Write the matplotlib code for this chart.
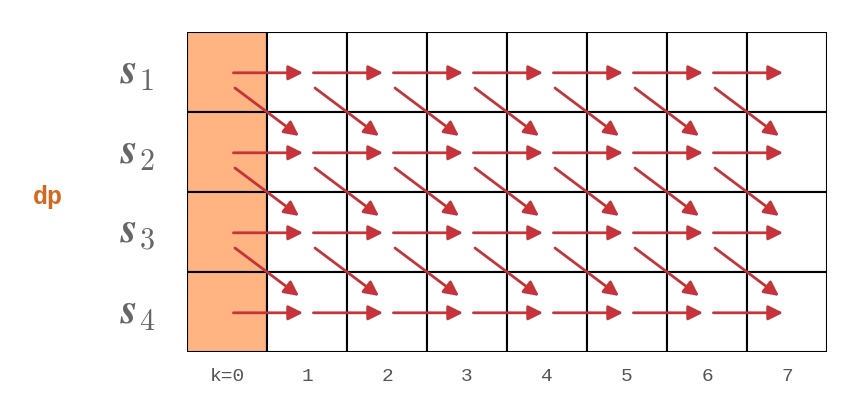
import matplotlib
matplotlib.use("Agg")
import matplotlib.pyplot as plt
from matplotlib.patches import Rectangle

rows = [r"$\boldsymbol{s}_1$", r"$\boldsymbol{s}_2$", r"$\boldsymbol{s}_3$", r"$\boldsymbol{s}_4$"]
k_labels = ["k=0", "1", "2", "3", "4", "5", "6", "7"]
n_rows, n_cols = len(rows), len(k_labels)

red = "#C4343A"
plt.rcParams["mathtext.fontset"] = "cm"
fig = plt.figure(figsize=(8.47, 4.09), dpi=100)
ax = fig.add_axes([187/847, (409-352)/409, 640/847, 320/409])
ax.set_xlim(0, n_cols); ax.set_ylim(n_rows, 0); ax.axis("off")

for r in range(n_rows):
    for c in range(n_cols):
        ax.add_patch(Rectangle((c, r), 1, 1, facecolor="#FFB482" if c == 0 else "white",
                               edgecolor="black", lw=1.5))
ap = dict(arrowstyle="-|>", mutation_scale=22, lw=2, color=red, shrinkA=0, shrinkB=0)
for r in range(n_rows):
    for c in range(n_cols - 1):
        ax.annotate("", xy=(c + 1.45, r + 0.51), xytext=(c + 0.58, r + 0.51), arrowprops=ap)
        if r < n_rows - 1:
            ax.annotate("", xy=(c + 1.4, r + 1.3), xytext=(c + 0.6, r + 0.7), arrowprops=ap)
for r, lab in enumerate(rows):
    ax.text(-0.62, r + 0.5, lab, fontsize=31, color="#666666", ha="center", va="center", clip_on=False)
for c, lab in enumerate(k_labels):
    ax.text(c + 0.5, 4.31, lab, fontsize=14, color="#555555", family="Liberation Mono",
            ha="center", va="center", clip_on=False)
ax.text(-1.74, 2.06, "dp", fontsize=18, color="#D2691E", family="Liberation Mono", weight="bold",
        ha="center", va="center", clip_on=False)
fig.savefig("out.png", dpi=100)
